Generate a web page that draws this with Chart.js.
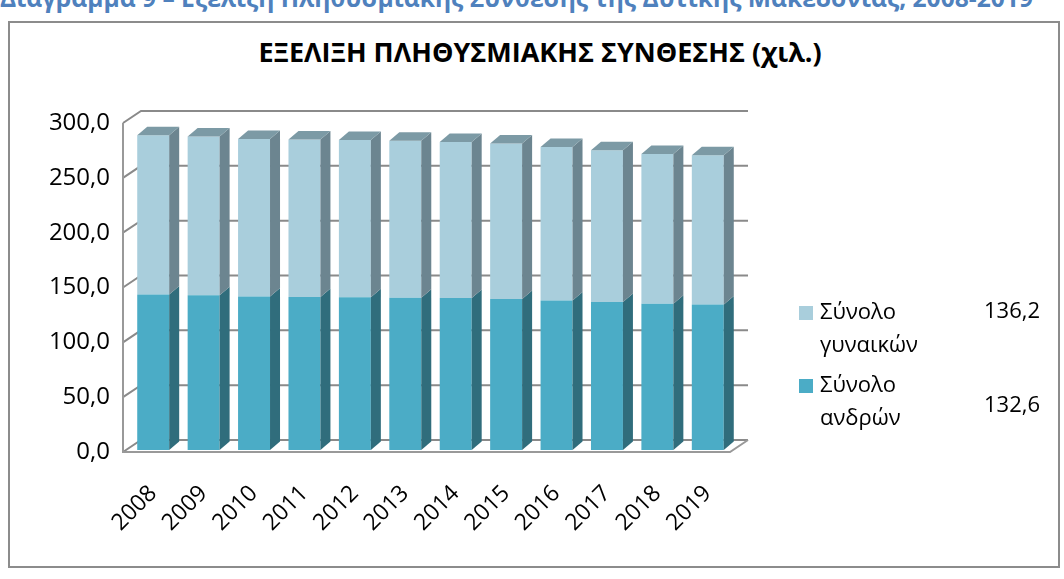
<!DOCTYPE html>
<html>
<head>
<meta charset="utf-8">
<script src="https://cdn.jsdelivr.net/npm/chart.js@4.4.0/dist/chart.umd.min.js"></script>
<style>
  html, body { margin: 0; padding: 0; background: #fff; overflow: hidden; width: 1064px; height: 579px; }
  #heading { position: absolute; left: 0; top: -19px; font: bold 24.6px "Open Sans", sans-serif; color: #4F81BD; white-space: nowrap; }
  #frame { position: absolute; left: 8px; top: 21px; width: 1052px; height: 547px; border: 2px solid #8c8c8c; box-sizing: border-box; }
  #title { position: absolute; left: 0; width: 1080px; top: 33px; text-align: center; font: bold 27px "Open Sans", sans-serif; line-height: 38px; color: #000; }
  #myChart { position: absolute; left: 0; top: 0; }
</style>
</head>
<body>
<div id="heading">Διάγραμμα 9 – Εξέλιξη Πληθυσμιακής Σύνθεσης της Δυτικής Μακεδονίας, 2008-2019</div>
<div id="frame"></div>
<div id="title">ΕΞΕΛΙΞΗ ΠΛΗΘΥΣΜΙΑΚΗΣ ΣΥΝΘΕΣΗΣ (χιλ.)</div>
<canvas id="myChart" width="1064" height="579"></canvas>
<script>
const years = ["2008", "2009", "2010", "2011", "2012", "2013", "2014", "2015", "2016", "2017", "2018", "2019"];
const men = [141.9, 141.0, 140.0, 139.4, 139.2, 138.8, 138.5, 137.6, 136.4, 134.9, 133.3, 132.6];
const women = [145.1, 144.8, 143.7, 143.7, 143.4, 143.1, 142.4, 141.8, 140.0, 138.4, 136.7, 136.2];
const menLabel = ["Σύνολο", "ανδρών"];
const womenLabel = ["Σύνολο", "γυναικών"];
const yTicks = [0, 50, 100, 150, 200, 250, 300];

const FONT = '"Open Sans", "Noto Sans", sans-serif';
const fmt = (v) => v.toFixed(1).replace(".", ",");

// fake 3D: side + top faces of the bars, walls and floor
const DX = 10, DY = -8.5;      // bar depth
const WX = 18, WY = -12;       // wall depth
const threeD = {
  id: "threeD",
  beforeDatasetsDraw(chart) {
    const { ctx, chartArea } = chart;
    const y = chart.scales.y;
    const fl = chartArea.left - 5, bl = fl + WX;
    const fr = chartArea.right - 3, br = fr + WX;
    ctx.save();
    ctx.strokeStyle = "#8a8a8a";
    ctx.lineWidth = 2;
    yTicks.forEach((v) => {
      const fy = y.getPixelForValue(v) + 2;
      ctx.beginPath();
      ctx.moveTo(fl, fy);
      ctx.lineTo(bl, fy + WY);
      ctx.lineTo(br, fy + WY);
      ctx.stroke();
    });
    const f0 = y.getPixelForValue(0) + 2;
    const ftop = y.getPixelForValue(300) + 2;
    ctx.strokeStyle = "#999";
    ctx.beginPath();
    ctx.moveTo(fl, ftop);
    ctx.lineTo(fl, f0);
    ctx.lineTo(fr, f0);
    ctx.lineTo(br, f0 + WY);
    ctx.stroke();
    ctx.restore();
  },
  afterDatasetsDraw(chart) {
    const { ctx } = chart;
    const n = chart.data.datasets.length;
    ctx.save();
    chart.data.datasets.forEach((ds, i) => {
      chart.getDatasetMeta(i).data.forEach((bar) => {
        const { x, y, base, width } = bar.getProps(["x", "y", "base", "width"], true);
        const l = x - width / 2, r = x + width / 2;
        ctx.fillStyle = ds.sideColor;
        ctx.beginPath();
        ctx.moveTo(r, y);
        ctx.lineTo(r + DX, y + DY);
        ctx.lineTo(r + DX, base + DY);
        ctx.lineTo(r, base);
        ctx.closePath();
        ctx.fill();
        if (i === n - 1) {
          ctx.fillStyle = ds.topColor;
          ctx.beginPath();
          ctx.moveTo(l, y);
          ctx.lineTo(l + DX, y + DY);
          ctx.lineTo(r + DX, y + DY);
          ctx.lineTo(r, y);
          ctx.closePath();
          ctx.fill();
        }
      });
    });
    ctx.restore();
  },
  afterDraw(chart) {
    // legend on the right, with the 2019 values beside it
    const { ctx } = chart;
    const ds = chart.data.datasets;
    ctx.save();
    ctx.font = "22px " + FONT;
    ctx.textBaseline = "middle";
    const items = [
      { d: ds[1], lines: womenLabel, top: 306, val: women[women.length - 1], vy: 312 },
      { d: ds[0], lines: menLabel, top: 379, val: men[men.length - 1], vy: 406 }
    ];
    items.forEach((it) => {
      ctx.fillStyle = it.d.backgroundColor;
      ctx.fillRect(799, it.top, 14, 14);
      ctx.fillStyle = "#000";
      ctx.textAlign = "left";
      ctx.fillText(it.lines[0], 820, it.top + 7);
      ctx.fillText(it.lines[1], 820, it.top + 40);
      ctx.textAlign = "right";
      ctx.fillText(fmt(it.val), 1040, it.vy);
    });
    ctx.restore();
  }
};

const ctx = document.getElementById("myChart").getContext("2d");
const myChart = new Chart(ctx, {
  type: "bar",
  data: {
    labels: years,
    datasets: [
      {
        label: menLabel.join(" "),
        data: men,
        backgroundColor: "#4BACC6",
        sideColor: "#306D7C",
        topColor: "#3C8A9E",
        borderWidth: 0,
        categoryPercentage: 1,
        barPercentage: 0.634,
      },
      {
        label: womenLabel.join(" "),
        data: women,
        backgroundColor: "#A9CEDC",
        sideColor: "#6C8590",
        topColor: "#7C9AA5",
        borderWidth: 0,
        categoryPercentage: 1,
        barPercentage: 0.634,
      },
    ],
  },
  options: {
    responsive: false,
    animation: false,
    layout: { padding: { left: 0, right: 331, top: 121, bottom: 0 } },
    plugins: {
      legend: { display: false },
      tooltip: { enabled: false },
    },
    scales: {
      x: {
        stacked: true,
        grid: { display: false, drawTicks: false },
        border: { display: false },
        ticks: { color: "#000", font: { family: FONT, size: 23 }, maxRotation: 45, minRotation: 45, padding: 30 },
        afterFit(scale) { scale.height = 129; },
      },
      y: {
        stacked: true,
        min: 0,
        max: 300,
        grid: { display: false, drawTicks: false },
        border: { display: false },
        ticks: { stepSize: 50, color: "#000", font: { family: FONT, size: 24 }, padding: 18, labelOffset: 2, callback: (v) => fmt(v) },
        afterFit(scale) { scale.width = 128; },
      },
    },
  },
  plugins: [threeD],
});
</script>
</body>
</html>
